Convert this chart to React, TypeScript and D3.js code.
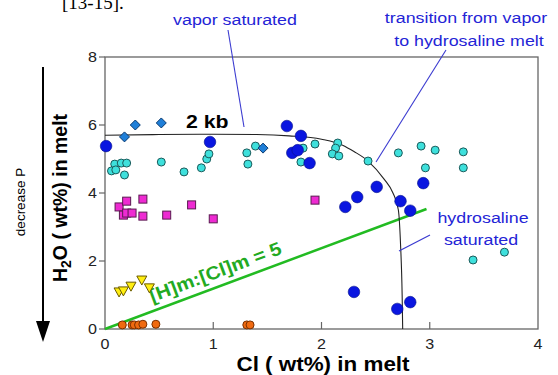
import React, { useEffect, useRef } from 'react';
import * as d3 from 'd3';

// data: [Cl wt%, H2O wt%]
const vaporSatBlue = [
  [0.01, 5.38], [0.97, 5.5], [1.68, 5.97], [1.81, 5.68], [1.73, 5.18], [1.78, 5.26],
  [1.89, 4.88], [2.22, 3.59], [2.33, 3.88], [2.51, 4.18], [2.73, 3.76], [2.82, 3.48],
  [2.94, 4.29], [2.3, 1.09], [2.7, 0.59], [2.82, 0.79],
];
const diamonds = [[0.18, 5.65], [0.28, 6.0], [0.52, 6.06], [1.46, 5.32]];
const cyanDots = [
  [0.09, 4.85], [0.15, 4.88], [0.2, 4.88], [0.06, 4.65], [0.1, 4.68], [0.18, 4.53],
  [0.52, 4.91], [0.73, 4.62], [0.89, 4.74], [0.94, 5.0], [0.96, 5.15], [1.31, 5.18],
  [1.39, 5.38], [1.32, 4.85], [1.83, 5.32], [1.81, 4.91], [1.94, 5.44], [2.15, 5.47],
  [2.13, 5.32], [2.1, 5.15], [2.16, 5.09], [2.43, 4.94], [2.71, 5.18], [2.92, 5.38],
  [3.05, 5.26], [3.31, 5.21], [2.96, 4.74], [3.31, 4.74], [3.4, 2.03], [3.69, 2.26],
];
const squares = [
  [0.13, 3.59], [0.2, 3.76], [0.17, 3.35], [0.2, 3.41], [0.25, 3.41], [0.35, 3.82],
  [0.35, 3.32], [0.57, 3.35], [0.8, 3.65], [1.0, 3.24], [1.94, 3.79],
];
const triangles = [[0.13, 1.09], [0.17, 1.12], [0.24, 1.26], [0.34, 1.44], [0.41, 1.21]];
const orangeDots = [
  [0.16, 0.12], [0.25, 0.12], [0.27, 0.12], [0.31, 0.12], [0.35, 0.14], [0.47, 0.14],
  [1.31, 0.12], [1.34, 0.12],
];
// 2 kb isobar
const isobar = [
  [0, 5.7], [0.5, 5.72], [1.0, 5.73], [1.4, 5.72], [1.7, 5.68], [2.0, 5.58], [2.2, 5.4],
  [2.3, 5.22], [2.43, 4.94], [2.58, 4.4], [2.66, 4.0], [2.71, 3.5], [2.73, 2.5],
  [2.745, 1.0], [2.75, 0],
];
const ratioLine = [[0, 0], [2.97, 3.53]];
const xTicks = [0, 1, 2, 3, 4];
const yTicks = [0, 2, 4, 6, 8];

const FONT = '"Liberation Sans", Arial, sans-serif';
const BLUE_TXT = '#2424d6';
const STRETCH = 1.15; // the source figure is a little wider than tall

const App = () => {
  const svgRef = useRef<SVGSVGElement>(null);

  useEffect(() => {
    const svg = d3.select(svgRef.current);
    svg.selectAll('*').remove();

    const x = d3.scaleLinear().domain([0, 4]).range([105, 538]);
    const y = d3.scaleLinear().domain([0, 8]).range([329, 57]);

    // horizontal text, slightly widened like the source
    const htext = (tx: number, ty: number, s: string, size: number, anchor = 'start') =>
      svg.append('text')
        .attr('transform', `translate(${tx},${ty}) scale(${STRETCH},1)`)
        .attr('text-anchor', anchor).attr('font-family', FONT).attr('font-size', size)
        .text(s);

    // top cut-off text from the page
    svg.append('text').attr('x', 62).attr('y', 9)
      .attr('font-family', '"Liberation Serif", serif').attr('font-size', 19)
      .text('[13-15].');

    // frame
    svg.append('rect')
      .attr('x', x(0)).attr('y', y(8))
      .attr('width', x(4) - x(0)).attr('height', y(0) - y(8))
      .attr('fill', 'none').attr('stroke', '#666').attr('stroke-width', 1.3);

    // ticks: y outward, x inward
    yTicks.forEach(t => {
      svg.append('line').attr('x1', x(0) - 6).attr('x2', x(0))
        .attr('y1', y(t)).attr('y2', y(t)).attr('stroke', '#666').attr('stroke-width', 1.2);
      htext(x(0) - 8, y(t) + 5, String(t), 14, 'end').attr('fill', '#222');
    });
    xTicks.forEach(t => {
      if (t > 0 && t < 4) {
        svg.append('line').attr('x1', x(t)).attr('x2', x(t))
          .attr('y1', y(0)).attr('y2', y(0) - 7).attr('stroke', '#666').attr('stroke-width', 1.2);
      }
      htext(x(t), y(0) + 20, String(t), 14, 'middle').attr('fill', '#222');
    });

    // axis titles
    htext(323, 371, 'Cl ( wt%) in melt', 19.5, 'middle').attr('font-weight', 'bold');
    const yl = svg.append('text')
      .attr('transform', 'translate(67,198) rotate(-90)').attr('text-anchor', 'middle')
      .attr('font-family', FONT).attr('font-size', 19.5).attr('font-weight', 'bold');
    yl.append('tspan').text('H');
    yl.append('tspan').attr('font-size', 14).attr('dy', 4).text('2');
    yl.append('tspan').attr('dy', -4).text('O ( wt%) in melt');

    // decrease P arrow
    svg.append('text').attr('transform', 'translate(25,202) rotate(-90)')
      .attr('text-anchor', 'middle').attr('font-family', FONT).attr('font-size', 13.5)
      .text('decrease P');
    svg.append('line').attr('x1', 43).attr('x2', 43).attr('y1', 67).attr('y2', 325)
      .attr('stroke', '#000').attr('stroke-width', 2);
    svg.append('path').attr('d', 'M36,321 L50,321 L43,342 Z').attr('fill', '#000');

    const line = d3.line<number[]>().x(d => x(d[0])).y(d => y(d[1]));

    // ratio line
    svg.append('path').attr('d', line(ratioLine)).attr('fill', 'none')
      .attr('stroke', '#22bb22').attr('stroke-width', 2.5);
    const ang = Math.atan2(y(3.53) - y(0), x(2.97) - x(0)) * 180 / Math.PI;
    svg.append('text').attr('transform', `translate(${x(1.04)},${y(1.5)}) rotate(${ang}) scale(1.1,1)`)
      .attr('text-anchor', 'middle').attr('font-family', FONT).attr('font-size', 18.5)
      .attr('font-weight', 'bold').attr('fill', '#22aa22').text('[H]m:[Cl]m = 5');

    // isobar
    svg.append('path').attr('d', line.curve(d3.curveMonotoneX)(isobar)).attr('fill', 'none')
      .attr('stroke', '#222').attr('stroke-width', 1.1);
    htext(186, 128, '2 kb', 18.5).attr('font-weight', 'bold');

    // annotation leaders
    const lead = (pts: number[][]) => svg.append('path')
      .attr('d', d3.line()(pts as [number, number][])).attr('fill', 'none')
      .attr('stroke', '#3a3ad0').attr('stroke-width', 1.1);
    lead([[228, 30], [244, 127]]);
    lead([[446, 50], [376, 162]]);
    lead([[430, 235], [399, 251]]);

    const note = (tx: number, ty: number, s: string) =>
      htext(tx, ty, s, 15.5, 'middle').attr('fill', BLUE_TXT);
    note(235, 25, 'vapor saturated');
    note(466, 23, 'transition from vapor');
    note(469, 46, 'to hydrosaline melt');
    note(483, 223, 'hydrosaline');
    note(481, 245, 'saturated');

    // markers
    const pts = svg.append('g');
    pts.selectAll('.cyan').data(cyanDots).enter().append('circle')
      .attr('cx', d => x(d[0])).attr('cy', d => y(d[1])).attr('r', 4)
      .attr('fill', '#3ee0dc').attr('stroke', '#1a5a5a').attr('stroke-width', 1);
    pts.selectAll('.dia').data(diamonds).enter().append('path')
      .attr('transform', d => `translate(${x(d[0])},${y(d[1])})`)
      .attr('d', 'M0,-5 L5,0 L0,5 L-5,0 Z')
      .attr('fill', '#1f7fd8').attr('stroke', '#0a3a70').attr('stroke-width', 1);
    pts.selectAll('.blue').data(vaporSatBlue).enter().append('circle')
      .attr('cx', d => x(d[0])).attr('cy', d => y(d[1])).attr('r', 5.8)
      .attr('fill', '#0a16e0').attr('stroke', '#05108a').attr('stroke-width', 0.6);
    pts.selectAll('.sq').data(squares).enter().append('rect')
      .attr('x', d => x(d[0]) - 4).attr('y', d => y(d[1]) - 4)
      .attr('width', 8).attr('height', 8)
      .attr('fill', '#ee2ad2').attr('stroke', '#5a1a50').attr('stroke-width', 1);
    pts.selectAll('.tri').data(triangles).enter().append('path')
      .attr('transform', d => `translate(${x(d[0])},${y(d[1])})`)
      .attr('d', 'M-5,-4 L5,-4 L0,5 Z')
      .attr('fill', '#ffee10').attr('stroke', '#6a5a00').attr('stroke-width', 1);
    pts.selectAll('.or').data(orangeDots).enter().append('circle')
      .attr('cx', d => x(d[0])).attr('cy', d => y(d[1])).attr('r', 4)
      .attr('fill', '#f06a10').attr('stroke', '#7a3000').attr('stroke-width', 1);
  }, []);

  return (
    <svg ref={svgRef} width={558} height={375}
      style={{ position: 'absolute', left: 0, top: 0, background: '#fff' }} />
  );
};

export default App;
